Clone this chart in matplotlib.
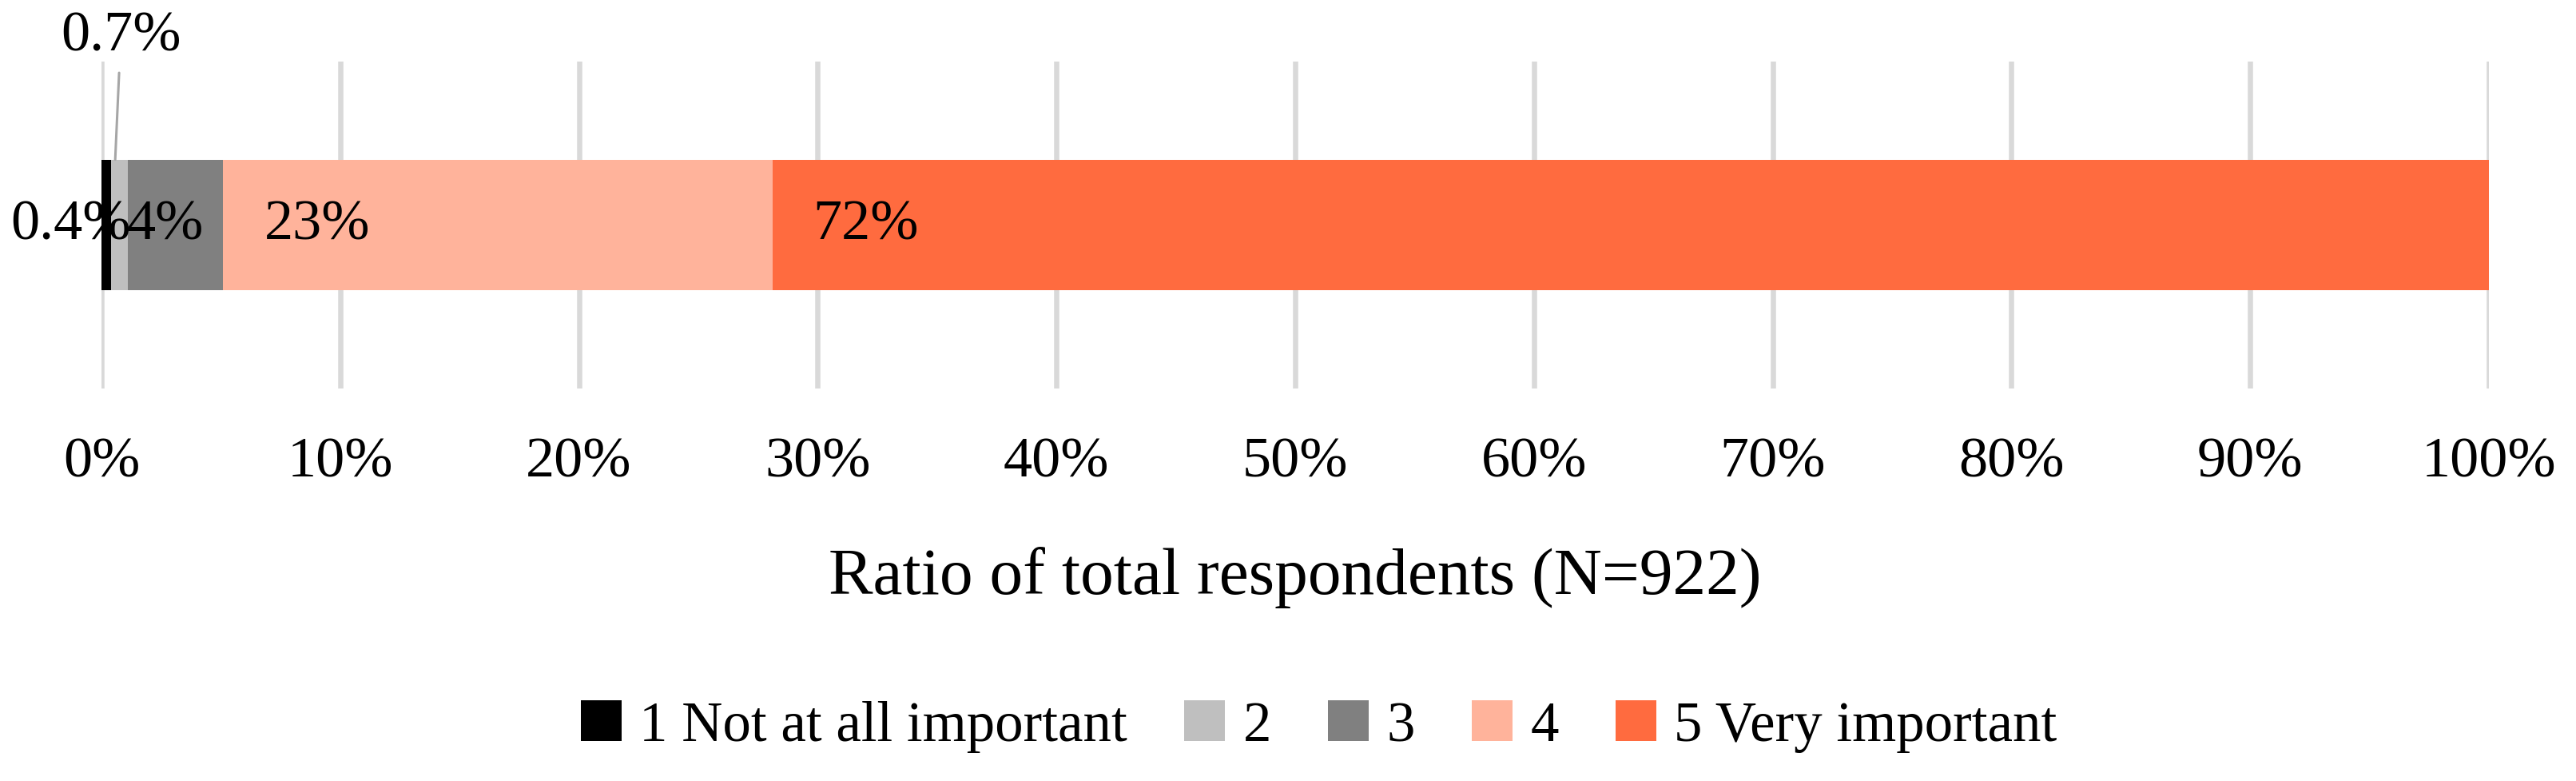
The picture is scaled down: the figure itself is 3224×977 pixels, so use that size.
import matplotlib
matplotlib.use("Agg")
import matplotlib.pyplot as plt
from matplotlib.patches import Patch
from matplotlib.ticker import PercentFormatter

categories = ["1 Not at all important", "2", "3", "4", "5 Very important"]
shares = [0.4, 0.7, 4, 23, 72]
share_labels = ["0.4%", "0.7%", "4%", "23%", "72%"]
colors = ["#000000", "#BFBFBF", "#808080", "#FFB39B", "#FF6B3F"]

plt.rcParams["font.family"] = ["Liberation Serif", "DejaVu Serif"]

fig = plt.figure(figsize=(32.24, 9.78), dpi=100)
ax = fig.add_axes([127 / 3224, 1 - 487 / 978, (3115 - 127) / 3224, (487 - 78) / 978])

left = 0
lefts = []
for val, col, cat in zip(shares, colors, categories):
    ax.barh(0, val, left=left, height=0.4, color=col, label=cat, zorder=2)
    lefts.append(left)
    left += val

# data labels (offsets in pixels from segment start, tuned by eye)
for i, lab in enumerate(share_labels):
    if i == 1:
        ax.annotate(lab, xy=(lefts[1] + shares[1] / 4, 0.2), xytext=(7, 155),
                    textcoords="offset pixels", ha="center", va="center",
                    fontsize=52,
                    arrowprops=dict(arrowstyle="-", color="#A6A6A6", lw=2.2,
                                    shrinkA=8, shrinkB=0))
        continue
    if i == 0:
        dx, ha = -38, "center"
    elif i == 2:
        dx, ha = 47, "center"
    else:
        dx, ha = 51, "left"
    ax.annotate(lab, xy=(lefts[i], 0), xytext=(dx, 0), textcoords="offset pixels",
                ha=ha, va="center", fontsize=52, zorder=3)

ax.set_xlim(0, 100)
ax.set_ylim(-0.5, 0.5)
ax.set_xticks(range(0, 101, 10))
ax.xaxis.set_major_formatter(PercentFormatter(decimals=0))
ax.set_yticks([])
ax.grid(axis="x", color="#D9D9D9", lw=4.7, zorder=0)
ax.tick_params(axis="x", length=0, pad=43, labelsize=52)
for sp in ax.spines.values():
    sp.set_visible(False)
ax.set_xlabel("Ratio of total respondents (N=922)", fontsize=60, labelpad=52)

handles = [Patch(facecolor=c, label=cat) for c, cat in zip(colors, categories)]
fig.legend(handles=handles, loc="center", bbox_to_anchor=(0.512, 0.07), ncol=5,
           frameon=False, fontsize=51, handlelength=0.72, handleheight=0.72,
           handletextpad=0.32, columnspacing=1.0)

fig.savefig("out.png", dpi=100)
